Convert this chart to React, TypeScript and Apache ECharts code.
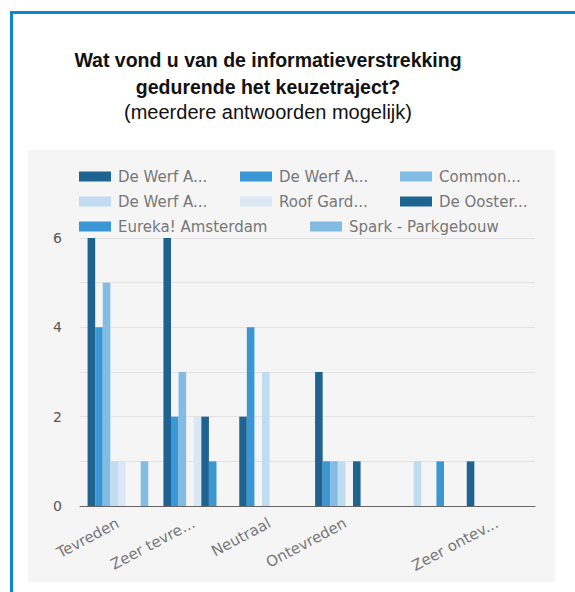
import React, { useEffect, useRef } from "react";
import * as echarts from "echarts";

const categories = ["Tevreden", "Zeer tevre...", "Neutraal", "Ontevreden", "", "Zeer ontev..."];
const seriesIds = ["werfA1", "werfA2", "common", "werfA3", "roof", "ooster", "eureka", "spark"];
const legendLabels = [
  "De Werf A...",
  "De Werf A...",
  "Common...",
  "De Werf A...",
  "Roof Gard...",
  "De Ooster...",
  "Eureka! Amsterdam",
  "Spark - Parkgebouw",
];
const werfA1 = [6, 6, 2, 3, 0, 1];
const werfA2 = [4, 2, 4, 1, 0, 0];
const common = [5, 3, 0, 1, 0, 0];
const werfA3 = [1, 0, 3, 1, 1, 0];
const roof = [1, 2, 0, 0, 0, 0];
const ooster = [0, 2, 0, 1, 0, 0];
const eureka = [0, 1, 0, 0, 1, 0];
const spark = [1, 0, 0, 0, 0, 0];
const seriesValues = [werfA1, werfA2, common, werfA3, roof, ooster, eureka, spark];
const yTickLabels = [0, 2, 4, 6];

const colors = ["#1f6391", "#3b97d3", "#83bce3", "#bfdcf1", "#d9e8f4", "#1f6391", "#3b97d3", "#83bce3"];
// legend placement (left, top-center) per item
const legendPos: [number, number][] = [
  [79, 177],
  [240, 177],
  [400, 177],
  [79, 202],
  [240, 202],
  [400, 202],
  [79, 227],
  [310, 227],
];

const FONT = "DejaVu Sans";

export default function App() {
  const ref = useRef<HTMLDivElement>(null);
  useEffect(() => {
    if (!ref.current) return;
    const chart = echarts.init(ref.current, undefined, { renderer: "svg" });
    const labelFor = (name: string) => legendLabels[seriesIds.indexOf(name)] ?? name;
    chart.setOption({
      animation: false,
      title: {
        text: "Wat vond u van de informatieverstrekking\ngedurende het keuzetraject?",
        subtext: "(meerdere antwoorden mogelijk)",
        left: 268,
        top: 46,
        textAlign: "center",
        padding: 0,
        itemGap: 0,
        textStyle: {
          fontFamily: "Liberation Sans",
          fontWeight: "bold",
          fontSize: 19.5,
          lineHeight: 27,
          color: "#111",
        },
        subtextStyle: {
          fontFamily: "Liberation Sans",
          fontSize: 20,
          lineHeight: 24,
          color: "#111",
        },
      },
      legend: seriesIds.map((id, i) => ({
        data: [id],
        left: legendPos[i][0],
        top: legendPos[i][1] - 8,
        padding: 0,
        itemWidth: 32,
        itemHeight: 10,
        itemGap: 5,
        icon: "rect",
        formatter: labelFor,
        textStyle: { fontFamily: FONT, fontSize: 15, color: "#777", padding: [0, 0, 0, 2] },
        selectedMode: false,
      })),
      grid: { left: 80, right: 40, top: 238, bottom: 86, containLabel: false },
      xAxis: {
        type: "category",
        data: categories,
        axisLine: { lineStyle: { color: "#666", width: 1 } },
        axisTick: { show: false },
        axisLabel: {
          interval: 0,
          rotate: 28,
          margin: 16,
          fontFamily: FONT,
          fontSize: 15,
          color: "#777",
        },
      },
      yAxis: {
        type: "value",
        min: 0,
        max: 6,
        interval: 1,
        axisLine: { show: false },
        axisTick: { show: false },
        axisLabel: {
          fontFamily: FONT,
          fontSize: 14,
          color: "#555",
          margin: 18,
          formatter: (v: number) => (yTickLabels.includes(v) ? String(v) : ""),
        },
        splitLine: { lineStyle: { color: "#e2e2e2", width: 1 } },
      },
      series: seriesIds.map((id, i) => ({
        name: id,
        type: "bar",
        data: seriesValues[i],
        barGap: "0%",
        barCategoryGap: "20%",
        itemStyle: { color: colors[i] },
      })),
    });
    return () => chart.dispose();
  }, []);

  return (
    <div style={{ position: "fixed", left: 0, top: 0, width: 575, height: 592, background: "#fff", overflow: "hidden" }}>
      <div style={{ position: "absolute", left: 10, top: 11, width: 3, height: 600, background: "#0e86d0" }} />
      <div style={{ position: "absolute", left: 10, top: 11, width: 600, height: 3, background: "#0e86d0" }} />
      <div style={{ position: "absolute", left: 28, top: 150, width: 527, height: 432, background: "#f5f5f5" }} />
      <div ref={ref} style={{ position: "absolute", left: 0, top: 0, width: 575, height: 592 }} />
    </div>
  );
}
